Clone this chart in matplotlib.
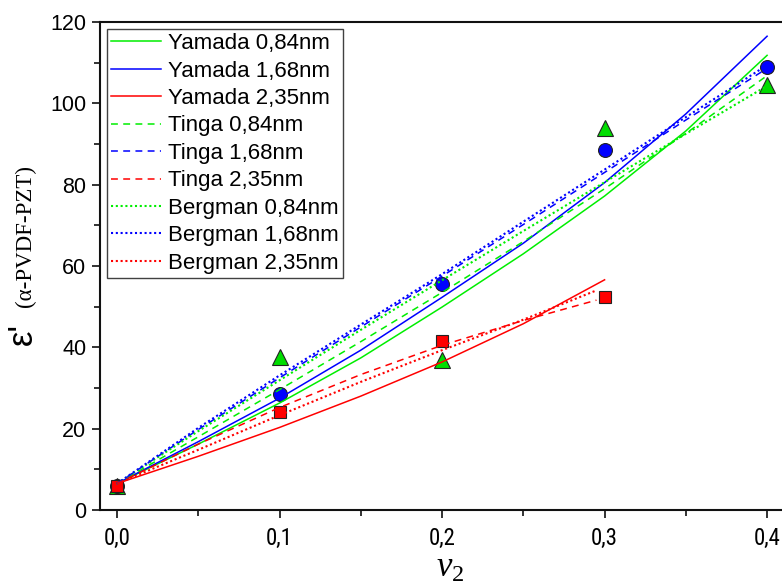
import matplotlib
matplotlib.use("Agg")
import matplotlib.pyplot as plt
from matplotlib.ticker import MultipleLocator, FuncFormatter

plt.rcParams['mathtext.fontset'] = 'custom'
plt.rcParams['mathtext.rm'] = 'Liberation Serif'
plt.rcParams['mathtext.it'] = 'Liberation Serif:italic'

# Measured permittivity of the composite
v_meas = [0.0, 0.1, 0.2, 0.3, 0.4]
eps_084 = [6.0, 37.5, 37.0, 94.0, 104.5]
eps_168 = [6.0, 28.6, 55.6, 88.5, 109.0]
v_meas_235 = [0.0, 0.1, 0.2, 0.3]
eps_235 = [6.0, 24.0, 41.5, 52.3]

# Model curves
v_model = [0.0, 0.05, 0.10, 0.15, 0.20, 0.25, 0.30, 0.35, 0.40]
v_model_235 = [0.0, 0.05, 0.10, 0.15, 0.20, 0.25, 0.30]
v_model_235_short = [0.0, 0.05, 0.10, 0.15, 0.20, 0.25, 0.295]

yamada_084 = [6.5, 16.2, 26.3, 37.4, 49.9, 63.0, 77.2, 93.2, 111.8]
yamada_168 = [6.5, 16.8, 27.5, 39.3, 52.3, 65.6, 80.5, 97.4, 116.5]
yamada_235 = [6.5, 13.2, 20.3, 28.0, 36.4, 45.8, 56.6]

tinga_084 = [6.5, 18.0, 29.6, 41.4, 53.5, 66.0, 79.0, 92.6, 106.8]
tinga_168 = [6.5, 19.8, 32.5, 45.0, 57.5, 70.2, 83.0, 95.9, 108.6]
tinga_235 = [6.5, 16.2, 25.2, 33.3, 40.5, 46.6, 51.6]

bergman_084 = [6.5, 19.4, 31.9, 44.3, 56.5, 68.6, 80.6, 92.5, 104.3]
bergman_168 = [6.5, 20.2, 33.1, 45.6, 58.0, 70.9, 83.7, 96.6, 109.4]
bergman_235 = [6.5, 14.8, 23.3, 31.5, 39.3, 46.8, 54.0]

x_ticks = [0.0, 0.1, 0.2, 0.3, 0.4]
y_ticks = [0, 20, 40, 60, 80, 100, 120]

GREEN = '#00ee00'
BLUE = '#0000ff'
RED = '#ff0000'

fig = plt.figure(figsize=(7.82, 5.88), dpi=100)
ax = fig.add_axes([0.1279, 0.1327, 0.8946, 0.8299])

# markers first, model curves on top
ax.plot(v_meas, eps_084, linestyle='none', marker='^', markersize=11.5,
        markerfacecolor='#00dd00', markeredgecolor='#222222', markeredgewidth=0.8, zorder=2)
ax.plot(v_meas, eps_168, linestyle='none', marker='o', markersize=10,
        markerfacecolor=BLUE, markeredgecolor='#222222', markeredgewidth=0.8, zorder=2)
ax.plot(v_meas_235, eps_235, linestyle='none', marker='s', markersize=9,
        markerfacecolor=RED, markeredgecolor='#222222', markeredgewidth=0.8, zorder=2)

lw = 1.1
dash = (0, (4.5, 3.5))
dot = (0, (1.0, 1.3))
ax.plot(v_model, yamada_084, color=GREEN, lw=lw, ls='-', label='Yamada 0,84nm', zorder=3)
ax.plot(v_model, yamada_168, color=BLUE, lw=lw, ls='-', label='Yamada 1,68nm', zorder=3)
ax.plot(v_model_235, yamada_235, color=RED, lw=lw, ls='-', label='Yamada 2,35nm', zorder=3)
ax.plot(v_model, tinga_084, color=GREEN, lw=lw, ls=dash, label='Tinga 0,84nm', zorder=3)
ax.plot(v_model, tinga_168, color=BLUE, lw=lw, ls=dash, label='Tinga 1,68nm', zorder=3)
ax.plot(v_model_235_short, tinga_235, color=RED, lw=lw, ls=dash, label='Tinga 2,35nm', zorder=3)
ax.plot(v_model, bergman_084, color=GREEN, lw=lw + 0.4, ls=dot, label='Bergman 0,84nm', zorder=3)
ax.plot(v_model, bergman_168, color=BLUE, lw=lw + 0.4, ls=dot, label='Bergman 1,68nm', zorder=3)
ax.plot(v_model_235_short, bergman_235, color=RED, lw=lw + 0.4, ls=dot, label='Bergman 2,35nm', zorder=3)

ax.set_xlim(-0.0105, 0.42)
ax.set_ylim(0, 120)

ax.set_xticks(x_ticks)
ax.set_yticks(y_ticks)
ax.xaxis.set_minor_locator(MultipleLocator(0.05))
ax.yaxis.set_minor_locator(MultipleLocator(10))
ax.xaxis.set_major_formatter(FuncFormatter(lambda v, p: f"{v:.1f}".replace('.', ',')))

for s in ax.spines.values():
    s.set_linewidth(1.5)
    s.set_color('#111111')

ax.tick_params(axis='both', which='major', direction='out', length=6, width=1.2,
               color='#111111', top=False, right=False)
ax.tick_params(axis='both', which='minor', direction='out', length=4, width=1.2,
               color='#111111', top=False, right=False)
ax.tick_params(axis='y', which='major', labelsize=15.5, pad=4)
ax.tick_params(axis='x', which='major', labelsize=16.5, pad=6)
for lab in ax.get_yticklabels():
    lab.set_family('Liberation Sans')
for lab in ax.get_xticklabels():
    lab.set_family(['Roboto Condensed', 'DejaVu Sans'])
    lab.set_stretch('condensed')

ax.set_xlabel(r'$\mathit{v}_{\mathrm{2}}$', fontsize=25, labelpad=0)

# y label: large epsilon-prime plus the material name in a smaller serif face
fig.text(0.029, 0.432, "ε'", rotation=90, fontsize=25, family='Liberation Sans',
         ha='center', va='center')
fig.text(0.032, 0.598, '(α-PVDF-PZT)', rotation=90, fontsize=16.5, family='Liberation Serif',
         ha='center', va='center')

leg = ax.legend(loc='upper left', bbox_to_anchor=(0.0, 1.0), borderaxespad=0.3,
                prop={'family': 'Liberation Sans', 'size': 16}, frameon=True,
                fancybox=False, handlelength=2.25, handletextpad=0.32,
                labelspacing=0.29, borderpad=0.2)
leg.get_frame().set_edgecolor('#111111')
leg.get_frame().set_linewidth(1.0)

fig.savefig('out.png', dpi=100)
